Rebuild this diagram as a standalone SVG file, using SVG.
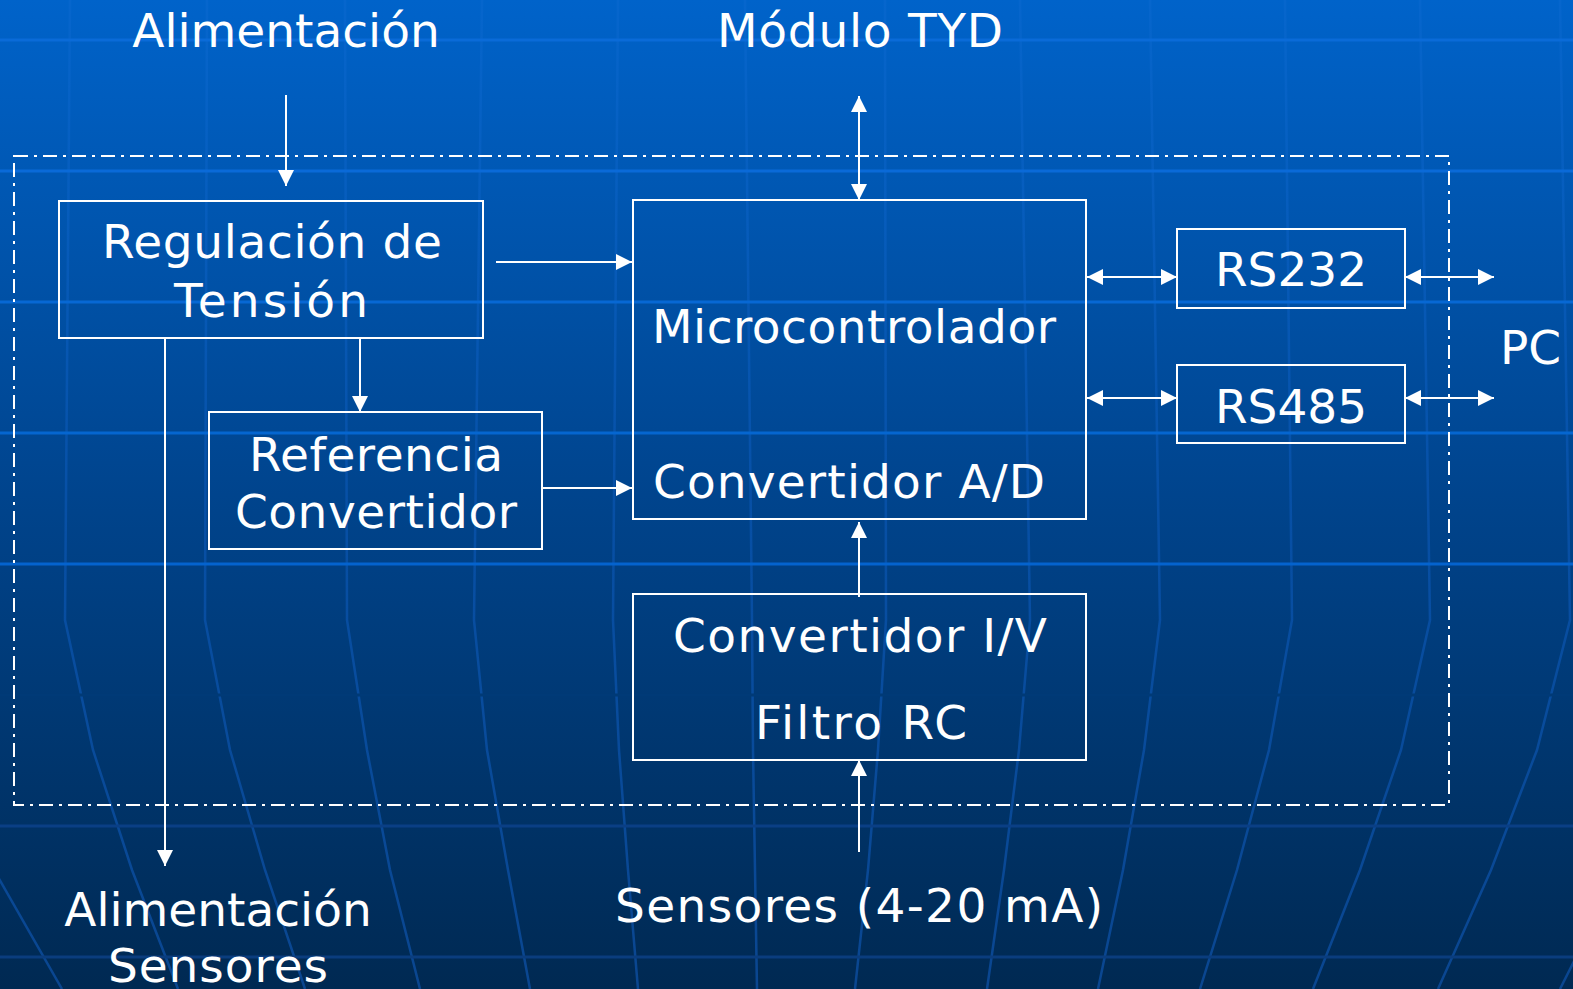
<svg xmlns="http://www.w3.org/2000/svg" width="1573" height="989" viewBox="0 0 1573 989">
<defs>
<linearGradient id="bg" x1="0" y1="0" x2="0" y2="989" gradientUnits="userSpaceOnUse">
<stop offset="0" stop-color="#0063CA"/>
<stop offset="0.5" stop-color="#00448D"/>
<stop offset="1" stop-color="#002952"/>
</linearGradient>
<linearGradient id="mer" x1="0" y1="0" x2="0" y2="989" gradientUnits="userSpaceOnUse">
<stop offset="0" stop-color="#0666CD"/>
<stop offset="0.5" stop-color="#0750A6"/>
<stop offset="1" stop-color="#0A4690"/>
</linearGradient>
<marker id="ah" viewBox="0 0 16 16" refX="16" refY="8" markerWidth="16" markerHeight="16" markerUnits="userSpaceOnUse" orient="auto-start-reverse">
<path d="M0,0 L16,8 L0,16 z" fill="#ffffff"/>
</marker>
<style>
.t{font-family:"DejaVu Sans","Verdana",sans-serif;font-size:47px;fill:#ffffff}
.m{text-anchor:middle}
.box{fill:none;stroke:#ffffff;stroke-width:2}
.ln{fill:none;stroke:#ffffff;stroke-width:2}
.mr{fill:none;stroke:url(#mer);stroke-width:2.5}
</style>
</defs>
<rect x="0" y="0" width="1573" height="989" fill="url(#bg)"/>
<g id="background-grid">
<path class="mr" d="M-65,0 L-60,620 L-32,750 L-6,870 L62,989"/>
<path class="mr" d="M70,0 L65,620 L93,750 L132,870 L178,989"/>
<path class="mr" d="M207,0 L205,620 L230,750 L265,870 L305,989"/>
<path class="mr" d="M345,0 L347,620 L367,750 L390,870 L420,989"/>
<path class="mr" d="M482,0 L474,620 L487,750 L508,870 L530,989"/>
<path class="mr" d="M618,0 L613,620 L619,750 L628,870 L638,989"/>
<path class="mr" d="M745,0 L752,620 L753,750 L755,870 L757,989"/>
<path class="mr" d="M885,0 L886,620 L878,750 L868,870 L855,989"/>
<path class="mr" d="M1020,0 L1030,620 L1019,750 L1004,870 L987,989"/>
<path class="mr" d="M1150,0 L1160,620 L1144,750 L1123,870 L1098,989"/>
<path class="mr" d="M1285,0 L1292,620 L1269,750 L1237,870 L1200,989"/>
<path class="mr" d="M1420,0 L1430,620 L1401,750 L1360,870 L1313,989"/>
<path class="mr" d="M1560,0 L1570,620 L1537,750 L1491,870 L1438,989"/>
<path class="mr" d="M1700,0 L1710,620 L1672,750 L1620,870 L1560,989"/>
<line x1="0" y1="40" x2="1573" y2="40" stroke="#0A6BD8" stroke-width="3"/>
<line x1="0" y1="171" x2="1573" y2="171" stroke="#0A6AD8" stroke-width="3"/>
<line x1="0" y1="302" x2="1573" y2="302" stroke="#0768D4" stroke-width="3"/>
<line x1="0" y1="433" x2="1573" y2="433" stroke="#0566D0" stroke-width="3"/>
<line x1="0" y1="564" x2="1573" y2="564" stroke="#0463CE" stroke-width="3"/>
<line x1="0" y1="695" x2="1573" y2="695" stroke="#003A77" stroke-width="3"/>
<line x1="0" y1="826" x2="1573" y2="826" stroke="#0A3F85" stroke-width="3"/>
<line x1="0" y1="957" x2="1573" y2="957" stroke="#0A3D7E" stroke-width="3"/>
</g>
<g id="boundary">
<rect x="14" y="156" width="1435" height="649" fill="none" stroke="#ffffff" stroke-width="2" stroke-dasharray="14 6 3 6"/>
</g>
<g id="connectors">
<line class="ln" x1="286" y1="95" x2="286" y2="186" marker-end="url(#ah)"/>
<line class="ln" x1="859" y1="96" x2="859" y2="200" marker-start="url(#ah)" marker-end="url(#ah)"/>
<line class="ln" x1="496" y1="262" x2="632" y2="262" marker-end="url(#ah)"/>
<line class="ln" x1="360" y1="338" x2="360" y2="412" marker-end="url(#ah)"/>
<line class="ln" x1="165" y1="338" x2="165" y2="866" marker-end="url(#ah)"/>
<line class="ln" x1="542" y1="488" x2="632" y2="488" marker-end="url(#ah)"/>
<line class="ln" x1="859" y1="597" x2="859" y2="522" marker-end="url(#ah)"/>
<line class="ln" x1="859" y1="852" x2="859" y2="760" marker-end="url(#ah)"/>
<line class="ln" x1="1087" y1="277" x2="1177" y2="277" marker-start="url(#ah)" marker-end="url(#ah)"/>
<line class="ln" x1="1087" y1="398" x2="1177" y2="398" marker-start="url(#ah)" marker-end="url(#ah)"/>
<line class="ln" x1="1405" y1="277" x2="1494" y2="277" marker-start="url(#ah)" marker-end="url(#ah)"/>
<line class="ln" x1="1405" y1="398" x2="1494" y2="398" marker-start="url(#ah)" marker-end="url(#ah)"/>
</g>
<g id="label-alimentacion">
<text class="t m" x="286" y="47">Alimentación</text>
</g>
<g id="label-modulo-tyd">
<text class="t m" x="860" y="47" textLength="286" lengthAdjust="spacing">Módulo TYD</text>
</g>
<g id="node-regulacion">
<rect class="box" x="59" y="201" width="424" height="137"/>
<text class="t m" x="272" y="258" textLength="340" lengthAdjust="spacing">Regulación de</text>
<text class="t m" x="271" y="317" textLength="194" lengthAdjust="spacing">Tensión</text>
</g>
<g id="node-referencia">
<rect class="box" x="209" y="412" width="333" height="137"/>
<text class="t m" x="376" y="471" textLength="254" lengthAdjust="spacing">Referencia</text>
<text class="t m" x="376" y="528" textLength="282" lengthAdjust="spacing">Convertidor</text>
</g>
<g id="node-microcontrolador">
<rect class="box" x="633" y="200" width="453" height="319"/>
<text class="t" x="652" y="343" textLength="404" lengthAdjust="spacing">Microcontrolador</text>
<text class="t" x="653" y="498" textLength="392" lengthAdjust="spacing">Convertidor A/D</text>
</g>
<g id="node-convertidor-iv">
<rect class="box" x="633" y="594" width="453" height="166"/>
<text class="t m" x="860" y="652" textLength="374" lengthAdjust="spacing">Convertidor I/V</text>
<text class="t m" x="861" y="739" textLength="212" lengthAdjust="spacing">Filtro RC</text>
</g>
<g id="node-rs232">
<rect class="box" x="1177" y="229" width="228" height="79"/>
<text class="t m" x="1291" y="286">RS232</text>
</g>
<g id="node-rs485">
<rect class="box" x="1177" y="365" width="228" height="78"/>
<text class="t m" x="1291" y="423">RS485</text>
</g>
<g id="label-pc">
<text class="t" x="1500" y="364">PC</text>
</g>
<g id="label-alimentacion-sensores">
<text class="t m" x="218" y="926">Alimentación</text>
<text class="t m" x="218" y="982" textLength="220" lengthAdjust="spacing">Sensores</text>
</g>
<g id="label-sensores">
<text class="t m" x="859" y="922" textLength="488" lengthAdjust="spacing">Sensores (4-20 mA)</text>
</g>
</svg>
